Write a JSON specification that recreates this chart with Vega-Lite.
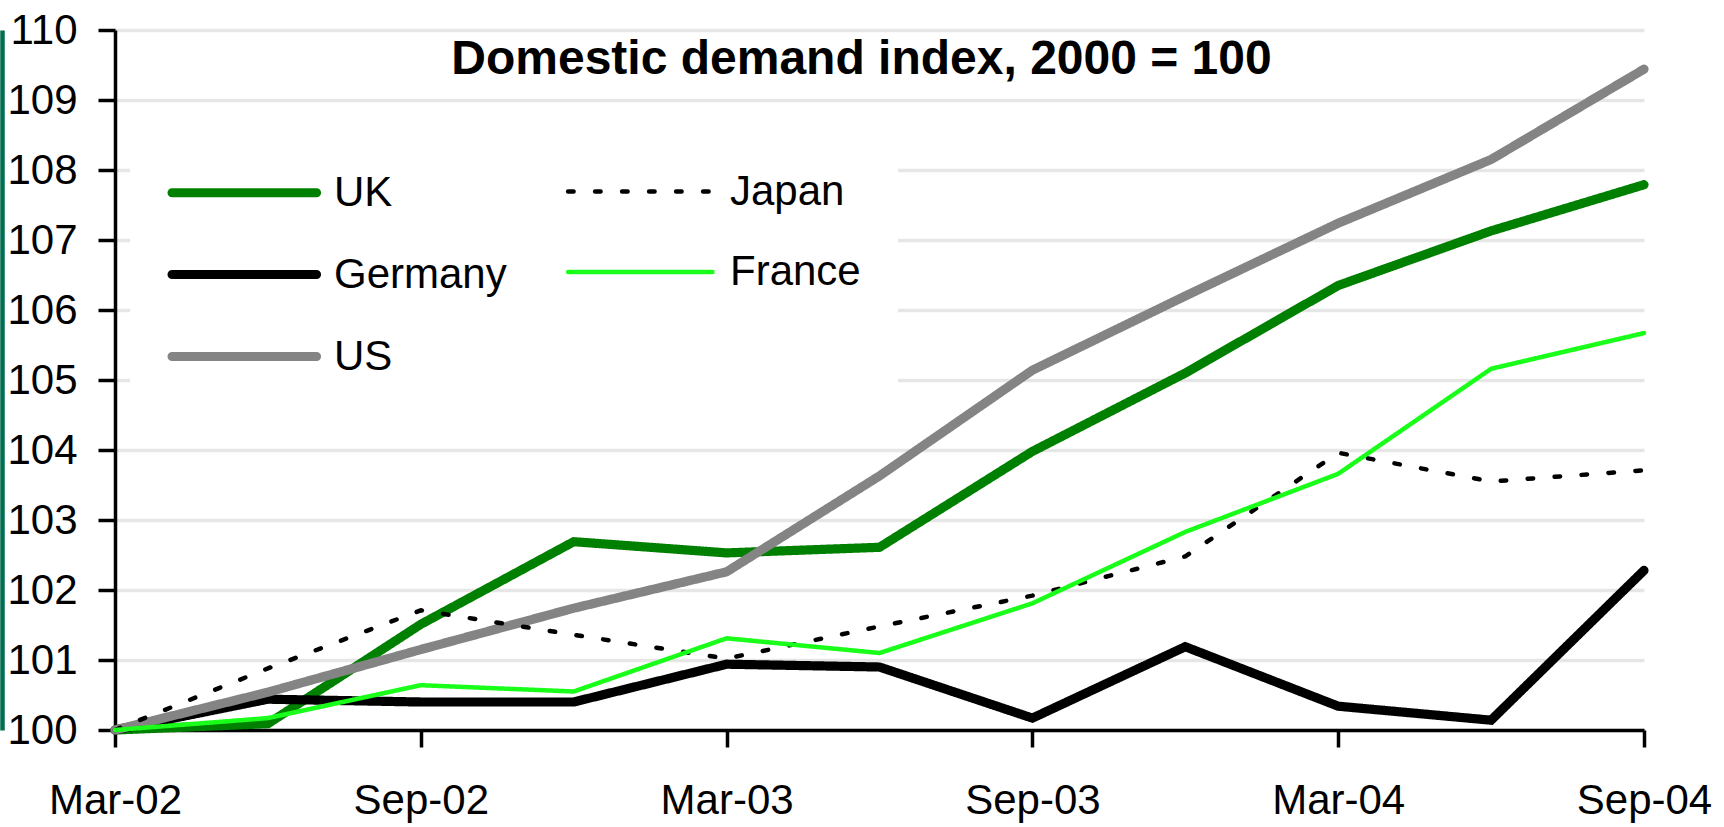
{
  "$schema": "https://vega.github.io/schema/vega-lite/v6.json",
  "autosize": {"type": "none"},
  "width": 1529,
  "height": 700,
  "padding": {"left": 115, "top": 30, "right": 80, "bottom": 97},
  "background": "white",
  "config": {
    "view": {"stroke": null},
    "font": "Liberation Sans",
    "axis": {"labelFont": "Liberation Sans", "labelFontSize": 42, "labelColor": "black"},
    "legend": {"labelFont": "Liberation Sans"}
  },
  "title": {
    "text": "Domestic demand index, 2000 = 100",
    "font": "Liberation Sans",
    "fontSize": 48,
    "fontWeight": "bold",
    "color": "black",
    "anchor": "middle",
    "dx": -18,
    "baseline": "alphabetic",
    "offset": 0,
    "dy": 113
  },
  "data": {
    "values": [
      {"q": 0, "quarter": "Mar-02", "country": "UK", "value": 100},
      {"q": 1, "quarter": "Jun-02", "country": "UK", "value": 100.09},
      {"q": 2, "quarter": "Sep-02", "country": "UK", "value": 101.51},
      {"q": 3, "quarter": "Dec-02", "country": "UK", "value": 102.69},
      {"q": 4, "quarter": "Mar-03", "country": "UK", "value": 102.53},
      {"q": 5, "quarter": "Jun-03", "country": "UK", "value": 102.61},
      {"q": 6, "quarter": "Sep-03", "country": "UK", "value": 103.98},
      {"q": 7, "quarter": "Dec-03", "country": "UK", "value": 105.10},
      {"q": 8, "quarter": "Mar-04", "country": "UK", "value": 106.35},
      {"q": 9, "quarter": "Jun-04", "country": "UK", "value": 107.13},
      {"q": 10, "quarter": "Sep-04", "country": "UK", "value": 107.79},
      {"q": 0, "quarter": "Mar-02", "country": "Germany", "value": 100},
      {"q": 1, "quarter": "Jun-02", "country": "Germany", "value": 100.44},
      {"q": 2, "quarter": "Sep-02", "country": "Germany", "value": 100.40},
      {"q": 3, "quarter": "Dec-02", "country": "Germany", "value": 100.40},
      {"q": 4, "quarter": "Mar-03", "country": "Germany", "value": 100.94},
      {"q": 5, "quarter": "Jun-03", "country": "Germany", "value": 100.90},
      {"q": 6, "quarter": "Sep-03", "country": "Germany", "value": 100.17},
      {"q": 7, "quarter": "Dec-03", "country": "Germany", "value": 101.19},
      {"q": 8, "quarter": "Mar-04", "country": "Germany", "value": 100.34},
      {"q": 9, "quarter": "Jun-04", "country": "Germany", "value": 100.14},
      {"q": 10, "quarter": "Sep-04", "country": "Germany", "value": 102.28},
      {"q": 0, "quarter": "Mar-02", "country": "US", "value": 100},
      {"q": 1, "quarter": "Jun-02", "country": "US", "value": 100.54},
      {"q": 2, "quarter": "Sep-02", "country": "US", "value": 101.15},
      {"q": 3, "quarter": "Dec-02", "country": "US", "value": 101.74},
      {"q": 4, "quarter": "Mar-03", "country": "US", "value": 102.26},
      {"q": 5, "quarter": "Jun-03", "country": "US", "value": 103.63},
      {"q": 6, "quarter": "Sep-03", "country": "US", "value": 105.14},
      {"q": 7, "quarter": "Dec-03", "country": "US", "value": 106.20},
      {"q": 8, "quarter": "Mar-04", "country": "US", "value": 107.24},
      {"q": 9, "quarter": "Jun-04", "country": "US", "value": 108.15},
      {"q": 10, "quarter": "Sep-04", "country": "US", "value": 109.44},
      {"q": 0, "quarter": "Mar-02", "country": "Japan", "value": 100},
      {"q": 1, "quarter": "Jun-02", "country": "Japan", "value": 100.88},
      {"q": 2, "quarter": "Sep-02", "country": "Japan", "value": 101.71},
      {"q": 3, "quarter": "Dec-02", "country": "Japan", "value": 101.36},
      {"q": 4, "quarter": "Mar-03", "country": "Japan", "value": 101.02},
      {"q": 5, "quarter": "Jun-03", "country": "Japan", "value": 101.48},
      {"q": 6, "quarter": "Sep-03", "country": "Japan", "value": 101.92},
      {"q": 7, "quarter": "Dec-03", "country": "Japan", "value": 102.48},
      {"q": 8, "quarter": "Mar-04", "country": "Japan", "value": 103.96},
      {"q": 9, "quarter": "Jun-04", "country": "Japan", "value": 103.55},
      {"q": 10, "quarter": "Sep-04", "country": "Japan", "value": 103.71},
      {"q": 0, "quarter": "Mar-02", "country": "France", "value": 100},
      {"q": 1, "quarter": "Jun-02", "country": "France", "value": 100.17},
      {"q": 2, "quarter": "Sep-02", "country": "France", "value": 100.64},
      {"q": 3, "quarter": "Dec-02", "country": "France", "value": 100.55},
      {"q": 4, "quarter": "Mar-03", "country": "France", "value": 101.31},
      {"q": 5, "quarter": "Jun-03", "country": "France", "value": 101.10},
      {"q": 6, "quarter": "Sep-03", "country": "France", "value": 101.81},
      {"q": 7, "quarter": "Dec-03", "country": "France", "value": 102.83},
      {"q": 8, "quarter": "Mar-04", "country": "France", "value": 103.66},
      {"q": 9, "quarter": "Jun-04", "country": "France", "value": 105.16},
      {"q": 10, "quarter": "Sep-04", "country": "France", "value": 105.67}
    ]
  },
  "layer": [
    {
      "mark": {"type": "line", "strokeCap": "round", "strokeJoin": "miter"},
      "encoding": {
        "x": {
          "field": "quarter",
          "type": "ordinal",
          "sort": ["Mar-02", "Jun-02", "Sep-02", "Dec-02", "Mar-03", "Jun-03", "Sep-03", "Dec-03", "Mar-04", "Jun-04", "Sep-04"],
          "scale": {"type": "point", "padding": 0},
          "axis": {
            "title": null,
            "values": ["Mar-02", "Sep-02", "Mar-03", "Sep-03", "Mar-04", "Sep-04"],
            "labelAngle": 0,
            "labelFontSize": 42,
            "labelPadding": 33,
            "tickSize": 17,
            "tickWidth": 3.5,
            "tickColor": "black",
            "domainColor": "black",
            "domainWidth": 3.5,
            "grid": false
          }
        },
        "y": {
          "field": "value",
          "type": "quantitative",
          "scale": {"domain": [100, 110], "nice": false, "zero": false},
          "axis": {
            "title": null,
            "orient": "left",
            "values": [100, 101, 102, 103, 104, 105, 106, 107, 108, 109, 110],
            "labelFontSize": 42,
            "labelPadding": 21,
            "tickSize": 17,
            "tickWidth": 3.5,
            "tickColor": "black",
            "domainColor": "black",
            "domainWidth": 3.5,
            "grid": true,
            "gridColor": "#e6e6e6",
            "gridWidth": 3.5
          }
        },
        "order": {"field": "q", "type": "quantitative"},
        "color": {
          "field": "country",
          "type": "nominal",
          "scale": {
            "domain": ["UK", "Germany", "US", "Japan", "France"],
            "range": ["#008000", "#000000", "#848484", "#000000", "#19ff19"]
          },
          "legend": {
            "title": null,
            "orient": "none",
            "legendX": 15,
            "legendY": 91,
            "columns": 2,
            "gridAlign": "all",
            "fillColor": "white",
            "padding": 37,
            "rowPadding": 26,
            "columnPadding": 52,
            "symbolType": "M-1,0H3.91",
            "symbolSize": 3460,
            "labelFontSize": 42,
            "labelColor": "black",
            "labelOffset": 98,
            "labelLimit": 400,
            "encode": {
              "symbols": {"update": {"strokeCap": {"value": "round"}}}
            }
          }
        },
        "strokeDash": {
          "field": "country",
          "type": "nominal",
          "scale": {
            "domain": ["UK", "Germany", "US", "Japan", "France"],
            "range": [[1, 0], [1, 0], [1, 0], [5.5, 21.5], [1, 0]]
          },
          "legend": null
        },
        "strokeWidth": {
          "field": "country",
          "type": "nominal",
          "scale": {
            "type": "ordinal",
            "domain": ["UK", "Germany", "US", "Japan", "France"],
            "range": [9.2, 9.2, 9.2, 4.5, 4.5]
          },
          "legend": null
        }
      }
    },
    {
      "mark": {"type": "point", "opacity": 0},
      "encoding": {
        "y": {
          "field": "value",
          "type": "quantitative",
          "axis": {
            "orient": "left",
            "offset": 113,
            "title": null,
            "labels": false,
            "ticks": false,
            "grid": false,
            "domainColor": "#006e50",
            "domainWidth": 4.5
          }
        }
      }
    }
  ],
  "resolve": {"axis": {"y": "independent"}}
}
